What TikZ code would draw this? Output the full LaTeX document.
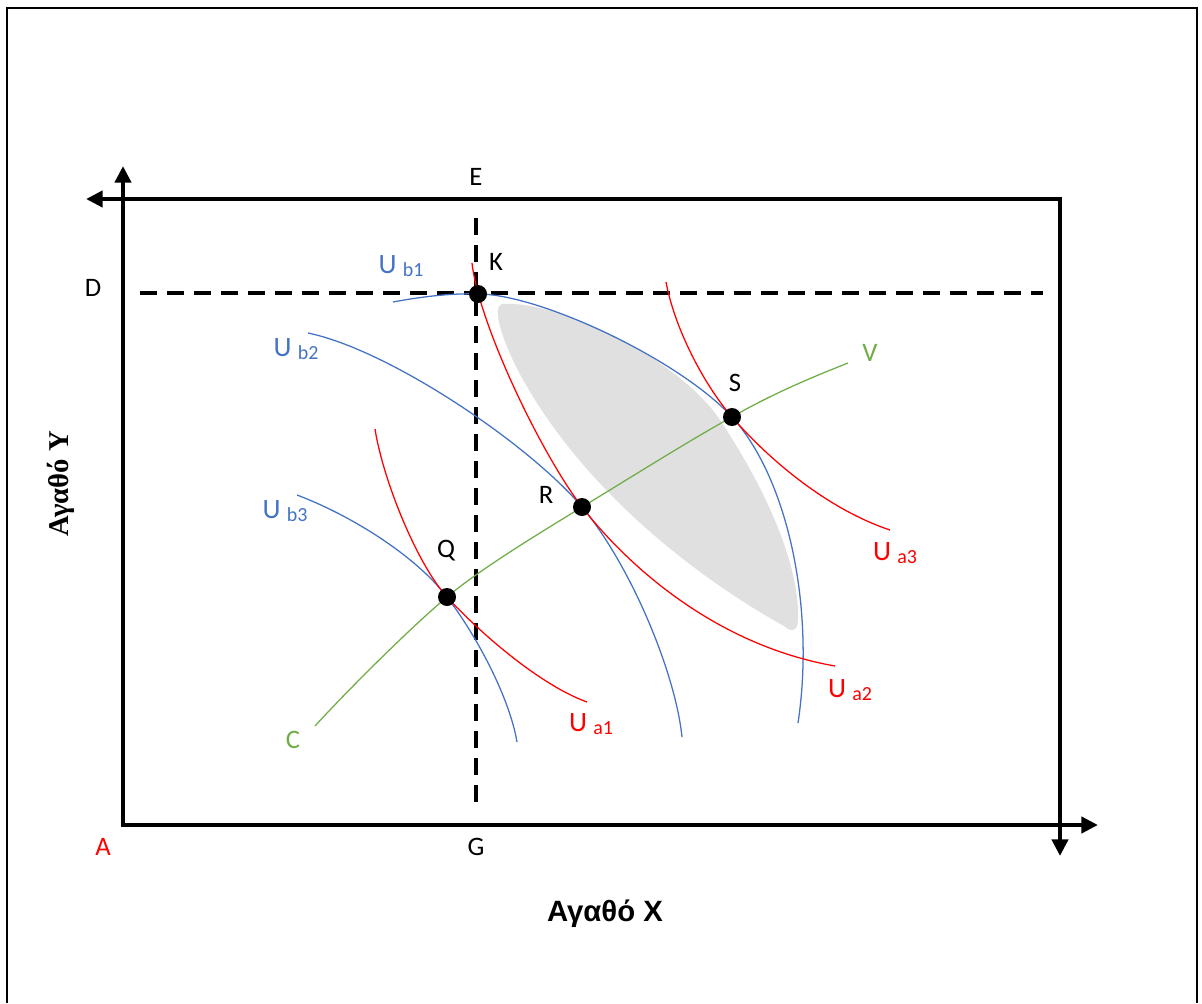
\documentclass[tikz,border=0pt]{standalone}
\usepackage{fontspec}
\setmainfont{Carlito}
\newfontfamily\arialf{Liberation Sans}
\newfontfamily\timesf{Liberation Serif}
\usetikzlibrary{arrows.meta}
\definecolor{ublue}{RGB}{68,114,196}
\definecolor{ured}{RGB}{255,0,0}
\definecolor{ugreen}{RGB}{112,173,71}
\definecolor{lensgray}{RGB}{224,224,224}
\newcommand{\usub}[2]{#1 {\fontsize{15}{15}\selectfont\raisebox{-2.5pt}{#2}}}
\begin{document}
\begin{tikzpicture}[x=0.75pt,y=-0.75pt,
  lab/.style={font=\fontsize{20}{20}\selectfont, inner sep=0pt},
  ulab/.style={font=\fontsize{21}{21}\selectfont, inner sep=0pt},
  axisline/.style={line width=3.1pt, {Triangle[length=12.5pt,width=12pt]}-{Triangle[length=12.5pt,width=12pt]}},
  dashline/.style={line width=2.5pt, dash pattern=on 12.75pt off 7.5pt},
  bcurve/.style={ublue, line width=0.95pt},
  rcurve/.style={ured, line width=0.95pt},
  gcurve/.style={ugreen, line width=0.95pt},
  dot/.style={circle, fill=black, minimum size=13.5pt, inner sep=0pt},
  frameline/.style={line width=1.6pt}]
\useasboundingbox (0,0) rectangle (1202,1003);
% outer frame
\coordinate (F1) at (7,1003);
\coordinate (F2) at (7,8);
\coordinate (F3) at (1197,8);
\coordinate (F4) at (1197,1003);
\draw[frameline] (F1) -- (F2) -- (F3) -- (F4);
% axes
\coordinate (O) at (123,825);
\coordinate (Ytip) at (123,166);
\coordinate (Xtip) at (1098,825);
\coordinate (TR) at (1060,199);
\coordinate (Ltip) at (86,199);
\coordinate (Dtip) at (1060,856);
\draw[axisline] (Ytip) -- (O) -- (Xtip);
\draw[axisline] (Ltip) -- (TR) -- (Dtip);
% shaded lens
\fill[lensgray] (502,304) .. controls (560,300) and (680,360) .. (720,420)
  .. controls (760,480) and (800,560) .. (798,620)
  .. controls (798,632) and (790,632) .. (784,626)
  .. controls (710,585) and (590,500) .. (522,378)
  .. controls (506,349) and (490,308) .. (502,304) -- cycle;
% dashed lines
\coordinate (DL) at (140,293);
\coordinate (DR) at (1043,293);
\coordinate (ET) at (476,218);
\coordinate (GB) at (476,808);
\draw[dashline] (DL) -- (DR);
\draw[dashline] (ET) -- (GB);
% key points
\coordinate (K) at (478,294);
\coordinate (R) at (582,507);
\coordinate (S) at (732,417);
\coordinate (Q) at (447,597);
% end points of curves
\coordinate (b1s) at (393,302); \coordinate (b1e) at (798,723);
\coordinate (b2s) at (308,333); \coordinate (b2e) at (682,737);
\coordinate (b3s) at (297,495); \coordinate (b3e) at (517,742);
\coordinate (a1s) at (375,429); \coordinate (a1e) at (587,702);
\coordinate (a2s) at (472,263); \coordinate (a2e) at (835,666);
\coordinate (a3s) at (666,282); \coordinate (a3e) at (890,530);
\coordinate (gs) at (315,726);  \coordinate (ge) at (848,363);
% blue curves
\draw[bcurve] (b1s) .. controls (420,297) and (450,293) .. (K)
  .. controls (540,294) and (680,360) .. (S)
  .. controls (789,480) and (815,610) .. (b1e);
\draw[bcurve] (b2s) .. controls (390,350) and (530,445) .. (R)
  .. controls (629,563) and (675,670) .. (b2e);
\draw[bcurve] (b3s) .. controls (350,515) and (415,555) .. (Q)
  .. controls (479,639) and (510,700) .. (b3e);
% red curves
\draw[rcurve] (a1s) .. controls (383,480) and (417,564) .. (Q)
  .. controls (480,633) and (540,685) .. (a1e);
\draw[rcurve] (a2s) .. controls (479,325) and (542,455) .. (R)
  .. controls (627,565) and (715,645) .. (a2e);
\draw[rcurve] (a3s) .. controls (675,330) and (705,386) .. (S)
  .. controls (772,463) and (830,510) .. (a3e);
% green curve
\draw[gcurve] (gs) .. controls (345,693) and (411,627) .. (Q)
  .. controls (483,567) and (540,533) .. (R)
  .. controls (630,478) and (690,440) .. (S)
  .. controls (770,395) and (810,378) .. (ge);
% dots
\node[dot] (Kd) at (K) {};
\node[dot] (Rd) at (R) {};
\node[dot] (Sd) at (S) {};
\node[dot] (Qd) at (Q) {};
% labels
\node[lab] (lE) at (476,177) {E};
\node[lab] (lD) at (93,288) {D};
\node[lab, text=ured] (lA) at (103,847) {A};
\node[lab] (lG) at (476,847) {G};
\node[lab] (lK) at (496,262) {K};
\node[lab] (lQ) at (446,551) {Q};
\node[lab] (lR) at (546,495) {R};
\node[lab] (lS) at (735,383) {S};
\node[lab, text=ugreen] (lV) at (870,353) {V};
\node[lab, text=ugreen] (lC) at (293,740) {C};
\node[ulab, text=ublue] (lUb1) at (401,266) {\usub{U}{b1}};
\node[ulab, text=ublue] (lUb2) at (296,349) {\usub{U}{b2}};
\node[ulab, text=ublue] (lUb3) at (285,511) {\usub{U}{b3}};
\node[ulab, text=ured] (lUa1) at (591,724) {\usub{U}{a1}};
\node[ulab, text=ured] (lUa2) at (850,690) {\usub{U}{a2}};
\node[ulab, text=ured] (lUa3) at (895,553) {\usub{U}{a3}};
\node[inner sep=0pt, font=\arialf\bfseries\fontsize{22}{22}\selectfont] (lX) at (605,914) {Αγαθό Χ};
\node[inner sep=0pt, rotate=90, font=\timesf\bfseries\fontsize{21.5}{21.5}\selectfont] (lY) at (61,484) {Αγαθό Υ};
\end{tikzpicture}
\end{document}
